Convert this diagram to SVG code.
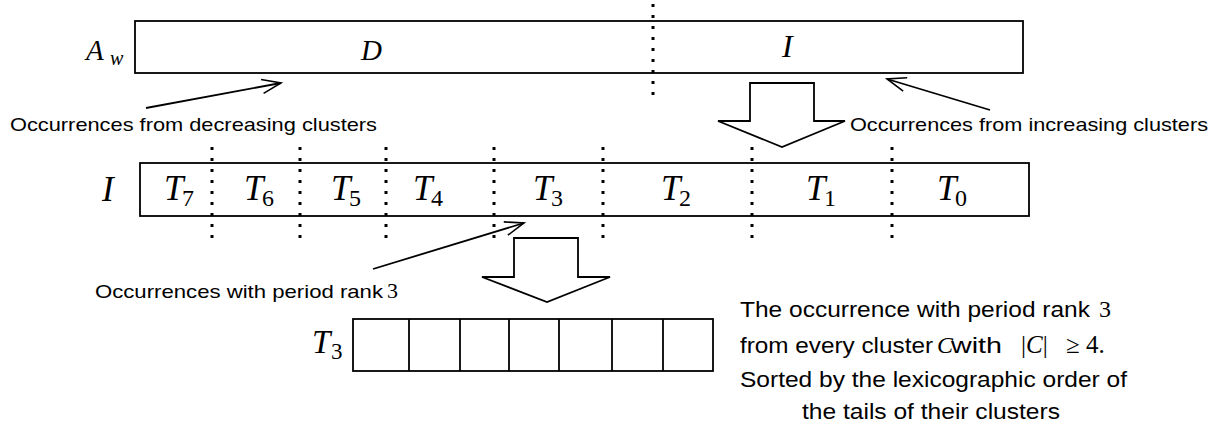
<svg xmlns="http://www.w3.org/2000/svg" width="1225" height="432" viewBox="0 0 1225 432">
<style>
.box{fill:#fff;stroke:#000;stroke-width:1.8}
.dot{stroke:#000;stroke-width:3;stroke-dasharray:3 8;fill:none}
.ln{stroke:#000;stroke-width:1.8;fill:none}
.blk{fill:#fff;stroke:#000;stroke-width:1.8;stroke-linejoin:miter}
.sans{font-family:"Liberation Sans",Arial,sans-serif;fill:#000}
.m{font-family:"Liberation Serif","Times New Roman",serif;font-style:italic;fill:#000}
.r{font-family:"Liberation Serif","Times New Roman",serif;fill:#000}
.t{font-size:35px}
.s{font-size:24px}
</style>
<defs>
<marker id="ah" viewBox="-22 -10 24 20" refX="0" refY="0" markerWidth="24" markerHeight="20" markerUnits="userSpaceOnUse" orient="auto">
<path d="M-19,-7 L0,0 L-19,7" fill="none" stroke="#000" stroke-width="1.6"/>
</marker>
</defs>
<rect width="1225" height="432" fill="#fff"/>

<g id="Aw">
<rect class="box" x="135" y="21" width="888" height="52"/>
<line class="dot" x1="653" y1="4" x2="653" y2="96"/>
<text class="m" x="86" y="60" font-size="29">A</text>
<text class="m" x="110" y="65" font-size="20">w</text>
<text class="m" x="361" y="60" font-size="29">D</text>
<text class="m" x="782" y="57" font-size="32">I</text>
</g>

<g id="I">
<rect class="box" x="140" y="163" width="889" height="53"/>
<line class="dot" x1="212" y1="147" x2="212" y2="240"/>
<line class="dot" x1="300" y1="147" x2="300" y2="240"/>
<line class="dot" x1="386" y1="147" x2="386" y2="240"/>
<line class="dot" x1="494" y1="147" x2="494" y2="240"/>
<line class="dot" x1="603" y1="147" x2="603" y2="240"/>
<line class="dot" x1="752" y1="147" x2="752" y2="240"/>
<line class="dot" x1="892" y1="147" x2="892" y2="240"/>
<text class="m t" x="102" y="201">I</text>
<text class="m t" x="164" y="200">T</text><text class="r s" x="182" y="206">7</text>
<text class="m t" x="244" y="200">T</text><text class="r s" x="262" y="206">6</text>
<text class="m t" x="331" y="200">T</text><text class="r s" x="349" y="206">5</text>
<text class="m t" x="413" y="200">T</text><text class="r s" x="431" y="206">4</text>
<text class="m t" x="533" y="200">T</text><text class="r s" x="551" y="206">3</text>
<text class="m t" x="661" y="200">T</text><text class="r s" x="679" y="206">2</text>
<text class="m t" x="806" y="200">T</text><text class="r s" x="824" y="206">1</text>
<text class="m t" x="937" y="200">T</text><text class="r s" x="955" y="206">0</text>
</g>

<g id="T3">
<rect class="box" x="353" y="319" width="360" height="52"/>
<line class="ln" x1="409" y1="319" x2="409" y2="371"/>
<line class="ln" x1="460" y1="319" x2="460" y2="371"/>
<line class="ln" x1="509" y1="319" x2="509" y2="371"/>
<line class="ln" x1="559" y1="319" x2="559" y2="371"/>
<line class="ln" x1="612" y1="319" x2="612" y2="371"/>
<line class="ln" x1="663" y1="319" x2="663" y2="371"/>
<text class="m" x="312" y="353" font-size="33">T</text><text class="r" x="331" y="359" font-size="23">3</text>
</g>

<g id="labels">
<text class="sans" x="10" y="131" font-size="19" textLength="367" lengthAdjust="spacingAndGlyphs">Occurrences from decreasing clusters</text>
<text class="sans" x="850" y="131" font-size="19" textLength="358" lengthAdjust="spacingAndGlyphs">Occurrences from increasing clusters</text>
<text class="sans" x="95" y="298" font-size="19" textLength="288" lengthAdjust="spacingAndGlyphs">Occurrences with period rank</text>
<text class="r" x="387" y="298" font-size="22">3</text>
</g>

<g id="note">
<text class="sans" x="740" y="317" font-size="22" textLength="350" lengthAdjust="spacingAndGlyphs">The occurrence with period rank</text>
<text class="r" x="1099" y="317" font-size="24">3</text>
<text class="sans" x="740" y="353" font-size="22" textLength="193" lengthAdjust="spacingAndGlyphs">from every cluster</text>
<text class="m" x="937" y="353" font-size="24">C</text>
<text class="sans" x="951" y="353" font-size="22" textLength="51" lengthAdjust="spacingAndGlyphs">with</text>
<text class="r" x="1021" y="353" font-size="25">|<tspan font-style="italic">C</tspan>|</text>
<text class="r" x="1066" y="353" font-size="25">≥ 4.</text>
<text class="sans" x="740" y="387" font-size="22" textLength="387" lengthAdjust="spacingAndGlyphs">Sorted by the lexicographic order of</text>
<text class="sans" x="802" y="419" font-size="22" textLength="258" lengthAdjust="spacingAndGlyphs">the tails of their clusters</text>
</g>

<g id="connectors">
<line class="ln" x1="146" y1="108" x2="281" y2="83" marker-end="url(#ah)"/>
<line class="ln" x1="990" y1="110" x2="887" y2="79" marker-end="url(#ah)"/>
<line class="ln" x1="373" y1="269" x2="524" y2="223" marker-end="url(#ah)"/>
<polygon class="blk" points="750,83 814,83 814,121 845,121 782,147 718,121 750,121"/>
<polygon class="blk" points="514,238 578,238 578,277 610,277 547,302 482,277 514,277"/>
</g>
</svg>
